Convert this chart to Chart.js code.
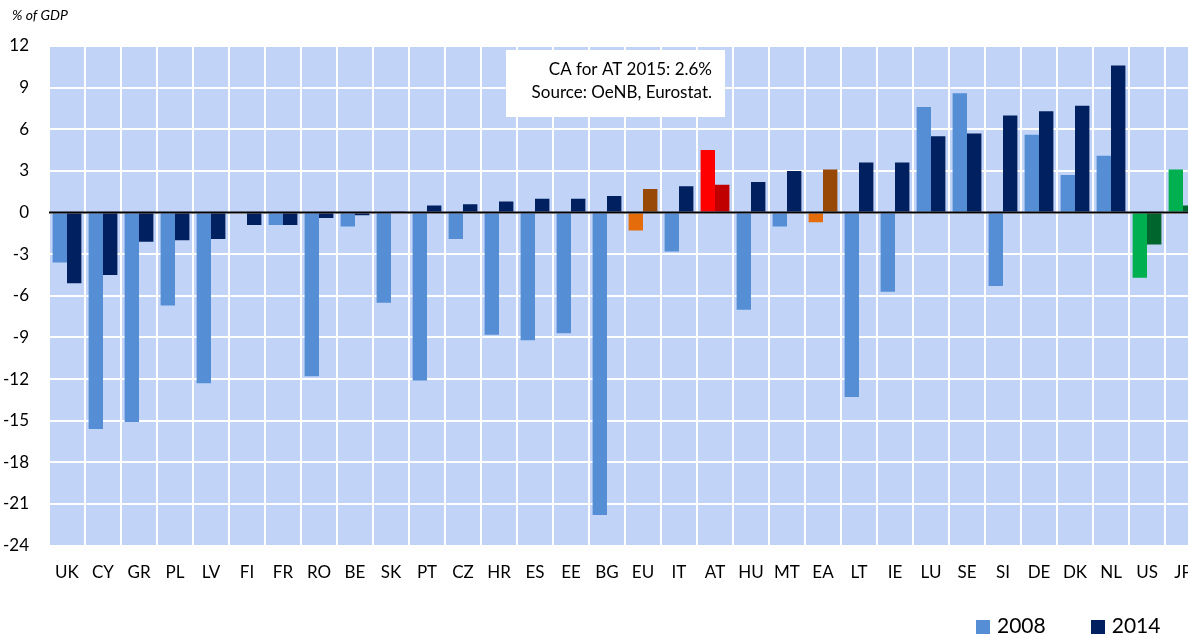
<!DOCTYPE html>
<html>
<head>
<meta charset="utf-8">
<script src="https://cdn.jsdelivr.net/npm/chart.js@4.4.1/dist/chart.umd.min.js"></script>
<style>
  html, body { margin: 0; padding: 0; background: #fff; overflow: hidden; }
  #wrap { position: relative; width: 1188px; height: 634px; overflow: hidden; }
  #legend { position: absolute; top: 612px; left: 976px; font: 21px Lato, sans-serif; color: #000; white-space: nowrap; }
  #legend span.sw { display: inline-block; width: 14px; height: 14px; margin-right: 7px; vertical-align: -1px; }
  #legend span.it { margin-right: 45px; }
</style>
</head>
<body>
<div id="wrap">
  <canvas id="caChart" width="1202" height="634"></canvas>
  <div id="legend">
    <span class="sw" style="background:#558ED5"></span><span class="it">2008</span><span class="sw" style="background:#002060"></span><span>2014</span>
  </div>
</div>
<script>
const categories = ['UK', 'CY', 'GR', 'PL', 'LV', 'FI', 'FR', 'RO', 'BE', 'SK', 'PT', 'CZ', 'HR', 'ES', 'EE', 'BG',
  'EU', 'IT', 'AT', 'HU', 'MT', 'EA', 'LT', 'IE', 'LU', 'SE', 'SI', 'DE', 'DK', 'NL', 'US', 'JP'];
const values2008 = [-3.6, -15.6, -15.1, -6.7, -12.3, null, -0.9, -11.8, -1.0, -6.5, -12.1, -1.9, -8.8, -9.2, -8.7, -21.8,
  -1.3, -2.8, 4.5, -7.0, -1.0, -0.7, -13.3, -5.7, 7.6, 8.6, -5.3, 5.6, 2.7, 4.1, -4.7, 3.1];
const values2014 = [-5.1, -4.5, -2.1, -2.0, -1.9, -0.9, -0.9, -0.4, -0.2, 0.1, 0.5, 0.6, 0.8, 1.0, 1.0, 1.2,
  1.7, 1.9, 2.0, 2.2, 3.0, 3.1, 3.6, 3.6, 5.5, 5.7, 7.0, 7.3, 7.7, 10.6, -2.3, 0.5];
const yTicks = [-24, -21, -18, -15, -12, -9, -6, -3, 0, 3, 6, 9, 12];

const FONT = 'Lato';

function colorFor(cat, year) {
  if (cat === 'EU' || cat === 'EA') return year === 2008 ? '#E46C0A' : '#984807';
  if (cat === 'AT') return year === 2008 ? '#FF0000' : '#C00000';
  if (cat === 'US' || cat === 'JP') return year === 2008 ? '#00B050' : '#00642D';
  return year === 2008 ? '#558ED5' : '#002060';
}

// plot background, zero line, title and note box
const decor = {
  id: 'decor',
  beforeDraw(chart) {
    const { ctx, chartArea: a } = chart;
    ctx.save();
    ctx.fillStyle = '#C1D4F8';
    ctx.fillRect(a.left, a.top, a.right - a.left, a.bottom - a.top);
    ctx.restore();
  },
  afterDatasetsDraw(chart) {
    const { ctx, chartArea: a, scales } = chart;
    const y0 = scales.y.getPixelForValue(0);
    ctx.save();
    ctx.strokeStyle = '#000';
    ctx.lineWidth = 2;
    ctx.beginPath();
    ctx.moveTo(a.left, y0);
    ctx.lineTo(a.right, y0);
    ctx.stroke();

    ctx.fillStyle = '#000';
    ctx.font = 'italic 14px ' + FONT;
    ctx.textBaseline = 'middle';
    ctx.textAlign = 'left';
    ctx.fillText('% of GDP', 12, 15);

    ctx.fillStyle = '#fff';
    ctx.fillRect(506, 50, 219, 67);
    ctx.fillStyle = '#000';
    ctx.font = '17px ' + FONT;
    ctx.textAlign = 'right';
    ctx.fillText('CA for AT 2015: 2.6%', 712, 70);
    ctx.fillText('Source: OeNB, Eurostat.', 712, 93);
    ctx.restore();
  }
};

const chart = new Chart(document.getElementById('caChart'), {
  type: 'bar',
  data: {
    labels: categories,
    datasets: [
      {
        label: '2008',
        data: values2008,
        backgroundColor: categories.map(c => colorFor(c, 2008)),
      },
      {
        label: '2014',
        data: values2014,
        backgroundColor: categories.map(c => colorFor(c, 2014)),
      }
    ]
  },
  options: {
    responsive: false,
    animation: false,
    categoryPercentage: 0.8,
    barPercentage: 1.0,
    layout: { padding: { top: 46, right: 1, left: 0, bottom: 0 } },
    plugins: {
      legend: { display: false },
      tooltip: { enabled: false },
    },
    scales: {
      x: {
        // invisible tick marks push the labels down without adding side padding
        grid: { color: '#FFFFFF', lineWidth: 2, drawTicks: true, tickLength: 17, tickColor: 'rgba(0,0,0,0)', offset: true },
        border: { display: false },
        ticks: { color: '#000', font: { family: FONT, size: 17 }, padding: 0, maxRotation: 0, autoSkip: false },
        afterFit(scale) { scale.height = 88.4; },
      },
      y: {
        min: -24,
        max: 12,
        afterBuildTicks(scale) { scale.ticks = yTicks.map(v => ({ value: v })); },
        grid: { color: '#FFFFFF', lineWidth: 2, drawTicks: false },
        border: { display: false },
        ticks: { color: '#000', font: { family: FONT, size: 17 }, padding: 20 },
        afterFit(scale) { scale.width = 49; },
      }
    }
  },
  plugins: [decor]
});
</script>
</body>
</html>
